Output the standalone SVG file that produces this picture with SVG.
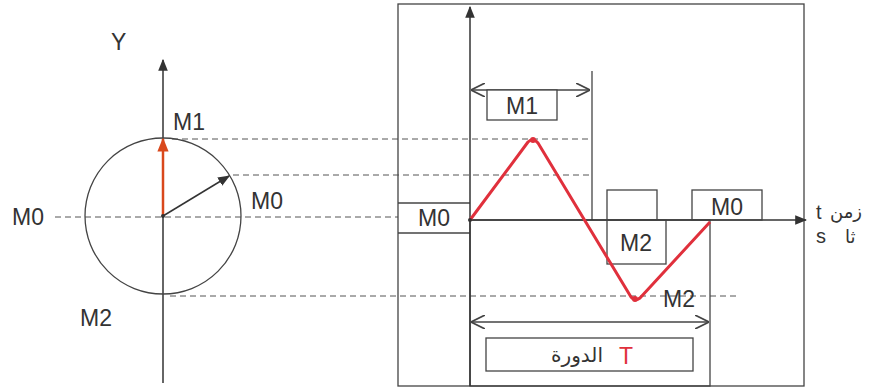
<svg xmlns="http://www.w3.org/2000/svg" width="876" height="390" viewBox="0 0 876 390">
<style>
.ln{stroke:#333;stroke-width:1.5;fill:none}
.th{stroke:#444;stroke-width:1.3;fill:none}
.ds{stroke:#555;stroke-width:1;stroke-dasharray:6,4;fill:none}
.bx{stroke:#444;stroke-width:1.3;fill:#fff}
.lb{font-family:"Liberation Sans",Arial,sans-serif;font-size:23px;fill:#333}
.ar{font-family:"DejaVu Sans",sans-serif;font-size:20px;fill:#333}
.red{stroke:#e0303c;stroke-width:3;fill:none;stroke-linejoin:round}
</style>
<defs>
<marker id="ahb" viewBox="0 0 10 10" refX="9" refY="5" markerWidth="12" markerHeight="12" orient="auto" markerUnits="userSpaceOnUse">
<path d="M0,1 L10,5 L0,9 z" fill="#333"/>
</marker>
<marker id="ahr" viewBox="0 0 10 10" refX="9" refY="5" markerWidth="14" markerHeight="14" orient="auto" markerUnits="userSpaceOnUse">
<path d="M0,1 L10,5 L0,9 z" fill="#d9481c"/>
</marker>
<marker id="ch" viewBox="0 0 10 10" refX="10" refY="5" markerWidth="14" markerHeight="14" orient="auto-start-reverse" markerUnits="userSpaceOnUse">
<path d="M0,0 L10,5 L0,10" fill="none" stroke="#444" stroke-width="1.2"/>
</marker>
</defs>

<g id="connectors">
<line class="ds" x1="55" y1="217" x2="398" y2="217"/>
<line class="ds" x1="172" y1="139" x2="592" y2="139"/>
<line class="ds" x1="233" y1="175" x2="592" y2="175"/>
<line class="ds" x1="170" y1="296" x2="740" y2="296"/>
</g>

<g id="circle">
<line class="ln" x1="163" y1="383" x2="163" y2="60" marker-end="url(#ahb)"/>
<circle cx="163" cy="216" r="78" class="th"/>
<line x1="163" y1="216" x2="163" y2="139" stroke="#d9481c" stroke-width="2.5" marker-end="url(#ahr)"/>
<line class="ln" x1="163" y1="216" x2="229" y2="176" marker-end="url(#ahb)"/>
<circle cx="163" cy="216" r="2" fill="#333"/>
<text class="lb" x="111" y="50">Y</text>
<text class="lb" x="173" y="130">M1</text>
<text class="lb" x="12" y="225">M0</text>
<text class="lb" x="251" y="209">M0</text>
<text class="lb" x="80" y="326">M2</text>
</g>

<g id="chart">
<rect x="398" y="4" width="406" height="382" class="th"/>
<line class="th" x1="398" y1="203" x2="470" y2="203"/>
<line class="th" x1="398" y1="233" x2="470" y2="233"/>
<rect x="470" y="220" width="240" height="166" class="th"/>
<line class="th" x1="592" y1="71" x2="592" y2="220"/>
<line class="ln" x1="470" y1="386" x2="470" y2="7" marker-end="url(#ahb)"/>
<line class="ln" x1="470" y1="220" x2="806" y2="220" marker-end="url(#ahb)"/>
</g>

<g id="m1">
<line class="th" x1="471" y1="90" x2="590" y2="90" marker-start="url(#ch)" marker-end="url(#ch)"/>
<rect x="487" y="90" width="70" height="30" class="bx"/>
<text class="lb" x="522" y="114" text-anchor="middle">M1</text>
</g>

<g id="m0left">
<text class="lb" x="434" y="226" text-anchor="middle">M0</text>
</g>

<g id="m2box">
<rect x="607" y="190" width="50" height="30" class="th"/>
<rect x="607" y="220" width="59" height="44" class="th"/>
<text class="lb" x="636" y="251" text-anchor="middle">M2</text>
</g>

<g id="m0right">
<rect x="692" y="190" width="70" height="30" class="th"/>
<text class="lb" x="727" y="215" text-anchor="middle">M0</text>
</g>

<g id="curve">
<path class="red" d="M470,220 L528,142 Q533,137 538,143 L631,297 Q635,302 640,298 L710,222"/>
<circle cx="533" cy="140" r="3" fill="#e0303c"/>
<circle cx="635" cy="299" r="3" fill="#e0303c"/>
<circle cx="470" cy="220" r="2" fill="#333"/>
<text class="lb" x="663" y="307">M2</text>
</g>

<g id="period">
<line class="th" x1="471" y1="322" x2="709" y2="322" marker-start="url(#ch)" marker-end="url(#ch)"/>
<rect x="486" y="338" width="207" height="33" class="th"/>
<text class="lb" x="626" y="364" text-anchor="middle" style="fill:#e0303c">T</text>
<text class="ar" x="603" y="362" text-anchor="end">الدورة</text>
</g>

<g id="units">
<text class="lb" x="816" y="219" style="font-size:20px">t</text>
<text class="ar" x="830" y="218" style="font-size:18px">زمن</text>
<text class="lb" x="816" y="243" style="font-size:20px">s</text>
<text class="ar" x="845" y="243" style="font-size:18px">ثا</text>
</g>
</svg>
